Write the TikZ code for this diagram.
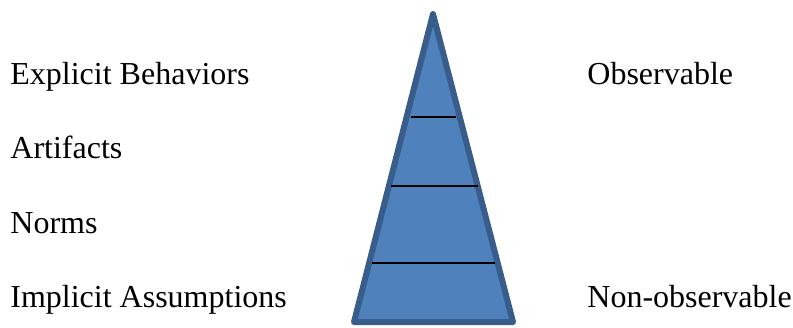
\documentclass[tikz,border=0pt]{standalone}
\usepackage{fontspec}
\setmainfont{Liberation Serif}
\begin{document}
\begin{tikzpicture}[
    x=0.5pt, y=-0.5pt,
    layer/.style={anchor=base west, inner sep=0pt, font=\fontsize{16}{19}\selectfont},
    side/.style={layer},
    cone/.style={fill=coneblue, draw=coneedge, line width=3pt, line join=round},
    divider/.style={draw=black, line width=1pt},
  ]
    \definecolor{coneblue}{HTML}{4F81BD}
    \definecolor{coneedge}{HTML}{385D8A}
    \useasboundingbox (0,0) rectangle (793,327);
    % Triangle
    \coordinate (apex) at (433,14);
    \coordinate (bl) at (354,322);
    \coordinate (br) at (513,322);
    \draw[cone] (apex) -- (br) -- (bl) -- cycle;
    % Divider lines
    \foreach \y/\xa/\xb in {117/411/456, 185.5/391/478, 262.5/372/495} {
      \draw[divider] (\xa,\y) -- (\xb,\y);
    }
    % Left labels
    \node[layer] (expl) at (10,84) {Explicit Behaviors};
    \node[layer] (arti) at (10,158) {Artifacts};
    \node[layer] (norm) at (10,233) {Norms};
    \node[layer] (impl) at (10,307) {Implicit Assumptions};
    % Right labels
    \node[side] (obs) at (587,84) {Observable};
    \node[side] (nonobs) at (587,307) {Non-observable};
  \end{tikzpicture}
\end{document}
